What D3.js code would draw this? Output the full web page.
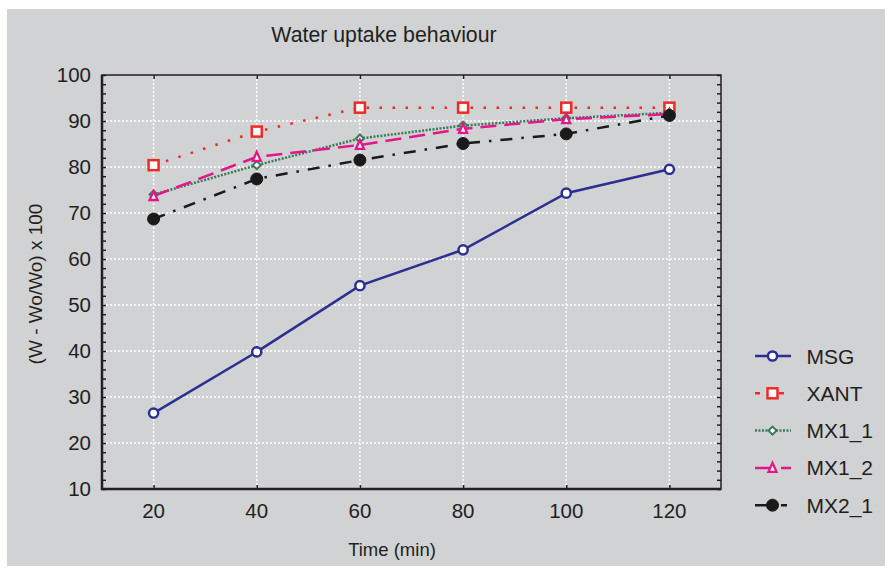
<!DOCTYPE html>
<html>
<head>
<meta charset="utf-8">
<script src="https://cdn.jsdelivr.net/npm/d3@7"></script>
<style>
  body { margin: 0; background: #fff; }
  svg text { font-family: "Liberation Sans", Arial, sans-serif; fill: #231f20; }
</style>
</head>
<body>
<div id="chart"></div>
<script>
// data
const times = [20, 40, 60, 80, 100, 120];
const msg  = [26.5, 39.8, 54.2, 62.0, 74.3, 79.5];
const xant = [80.4, 87.7, 92.9, 92.9, 92.9, 92.9];
const mx11 = [74.0, 80.4, 86.2, 89.0, 90.6, 91.8];
const mx12 = [73.7, 82.2, 84.8, 88.3, 90.4, 91.5];
const mx21 = [68.7, 77.4, 81.5, 85.1, 87.2, 91.2];
const yTicks = [10, 20, 30, 40, 50, 60, 70, 80, 90, 100];

const series = [
  { name: 'MSG',   values: msg,  color: '#2b3090', dash: null,         legDash: null,       marker: 'circle',   fill: '#fff',    width: 2.5 },
  { name: 'XANT',  values: xant, color: '#ed2a24', dash: '2.5,10.5',   legDash: '5,7',      marker: 'square',   fill: '#fff',    width: 2.5 },
  { name: 'MX1_1', values: mx11, color: '#3a7a55', dash: '2,1.5',      legDash: '2,1.5',    marker: 'diamond',  fill: '#fff',    width: 2.5 },
  { name: 'MX1_2', values: mx12, color: '#e5158a', dash: '16,8',       legDash: '20,6,10',  marker: 'triangle', fill: '#fff',    width: 2.5 },
  { name: 'MX2_1', values: mx21, color: '#1a1a1a', dash: '12,9,2.5,9', legDash: '22,4,6,20', marker: 'dot',     fill: '#1a1a1a', width: 2.5 }
];

const W = 885, H = 568;
const svg = d3.select('#chart').append('svg')
  .attr('width', W).attr('height', H);

svg.append('rect').attr('x', 7).attr('y', 9)
  .attr('width', W - 7).attr('height', 557).attr('fill', '#d1d2d4');

const pl = 102, pr = 721, pt = 75, pb = 489;
const x = d3.scaleLinear().domain([10, 130]).range([pl, pr]);
const y = d3.scaleLinear().domain([10, 100]).range([pb, pt]);

// grid
const grid = svg.append('g');
grid.selectAll('.gx').data(times).join('line')
  .attr('x1', d => x(d)).attr('x2', d => x(d))
  .attr('y1', pt).attr('y2', pb)
  .attr('stroke', '#fff').attr('stroke-width', 1.5).attr('stroke-dasharray', '2,2');
grid.selectAll('.gy').data(yTicks.slice(1, -1)).join('line')
  .attr('x1', pl).attr('x2', pr)
  .attr('y1', d => y(d)).attr('y2', d => y(d))
  .attr('stroke', '#fff').attr('stroke-width', 1.5).attr('stroke-dasharray', '2,2');

// axes (ticks pointing inward)
const minor = d3.range(10, 100.1, 2);
const axisStyle = g => {
  g.select('.domain').remove();
  g.selectAll('line').attr('stroke', '#231f20').attr('stroke-width', 1.5);
};
svg.append('g').attr('transform', `translate(${pl},0)`)
  .call(d3.axisRight(y).tickValues(minor).tickSize(4).tickFormat(''))
  .call(axisStyle);
svg.append('g').attr('transform', `translate(${pr},0)`)
  .call(d3.axisLeft(y).tickValues(minor).tickSize(4).tickFormat(''))
  .call(axisStyle);
svg.append('g').attr('transform', `translate(0,${pb})`)
  .call(d3.axisTop(x).tickValues(times).tickSize(4).tickFormat(''))
  .call(axisStyle);
svg.append('g').attr('transform', `translate(0,${pt})`)
  .call(d3.axisBottom(x).tickValues(times).tickSize(4).tickFormat(''))
  .call(axisStyle);

// tick labels
svg.append('g').selectAll('text').data(yTicks).join('text')
  .attr('x', 91).attr('y', d => y(d)).attr('dy', '0.35em')
  .attr('text-anchor', 'end').attr('font-size', 20.5).text(d => d);
svg.append('g').selectAll('text').data(times).join('text')
  .attr('x', d => x(d)).attr('y', 517.5)
  .attr('text-anchor', 'middle').attr('font-size', 20.5).text(d => d);

// frame
svg.append('rect').attr('x', pl).attr('y', pt)
  .attr('width', pr - pl).attr('height', pb - pt)
  .attr('fill', 'none').attr('stroke', '#231f20').attr('stroke-width', 1.5);
svg.append('path')
  .attr('d', `M${pl},${pt}V${pb}H${pr}`)
  .attr('fill', 'none').attr('stroke', '#231f20').attr('stroke-width', 2.5);

// titles
svg.append('text').attr('x', 384).attr('y', 42).attr('text-anchor', 'middle')
  .attr('font-size', 21.3).text('Water uptake behaviour');
svg.append('text').attr('x', 392).attr('y', 556).attr('text-anchor', 'middle')
  .attr('font-size', 18.5).text('Time (min)');
svg.append('text').attr('transform', 'translate(42,284) rotate(-90)')
  .attr('text-anchor', 'middle').attr('font-size', 19).text('(W - Wo/Wo) x 100');

// markers
function drawMarker(g, s, cx, cy) {
  if (s.marker === 'circle') {
    g.append('circle').attr('cx', cx).attr('cy', cy).attr('r', 4.6)
      .attr('fill', s.fill).attr('stroke', s.color).attr('stroke-width', 2.5);
  } else if (s.marker === 'square') {
    g.append('rect').attr('x', cx - 5).attr('y', cy - 5).attr('width', 10).attr('height', 10)
      .attr('fill', s.fill).attr('stroke', s.color).attr('stroke-width', 2.5);
  } else if (s.marker === 'diamond') {
    g.append('path').attr('d', `M${cx},${cy - 4}L${cx + 4},${cy}L${cx},${cy + 4}L${cx - 4},${cy}Z`)
      .attr('fill', s.fill).attr('stroke', s.color).attr('stroke-width', 2);
  } else if (s.marker === 'triangle') {
    g.append('path').attr('d', `M${cx},${cy - 5}L${cx + 4},${cy + 4}L${cx - 4},${cy + 4}Z`)
      .attr('fill', s.fill).attr('stroke', s.color).attr('stroke-width', 2.3);
  } else {
    g.append('circle').attr('cx', cx).attr('cy', cy).attr('r', 6)
      .attr('fill', s.fill).attr('stroke', s.color).attr('stroke-width', 1);
  }
}

const line = d3.line().x((d, i) => x(times[i])).y(d => y(d));
series.forEach(s => {
  svg.append('path').datum(s.values).attr('d', line)
    .attr('fill', 'none').attr('stroke', s.color).attr('stroke-width', s.width)
    .attr('stroke-dasharray', s.dash);
});
series.forEach(s => {
  const g = svg.append('g');
  s.values.forEach((v, i) => drawMarker(g, s, x(times[i]), y(v)));
});

// legend
series.forEach((s, i) => {
  const ly = 356 + i * 37.3;
  const g = svg.append('g');
  g.append('line').attr('x1', 755).attr('x2', 791).attr('y1', ly).attr('y2', ly)
    .attr('stroke', s.color).attr('stroke-width', s.width).attr('stroke-dasharray', s.legDash);
  drawMarker(g, s, 772.5, ly);
  g.append('text').attr('x', 806.5).attr('y', ly).attr('dy', '0.36em')
    .attr('font-size', 21).text(s.name);
});
</script>
</body>
</html>
